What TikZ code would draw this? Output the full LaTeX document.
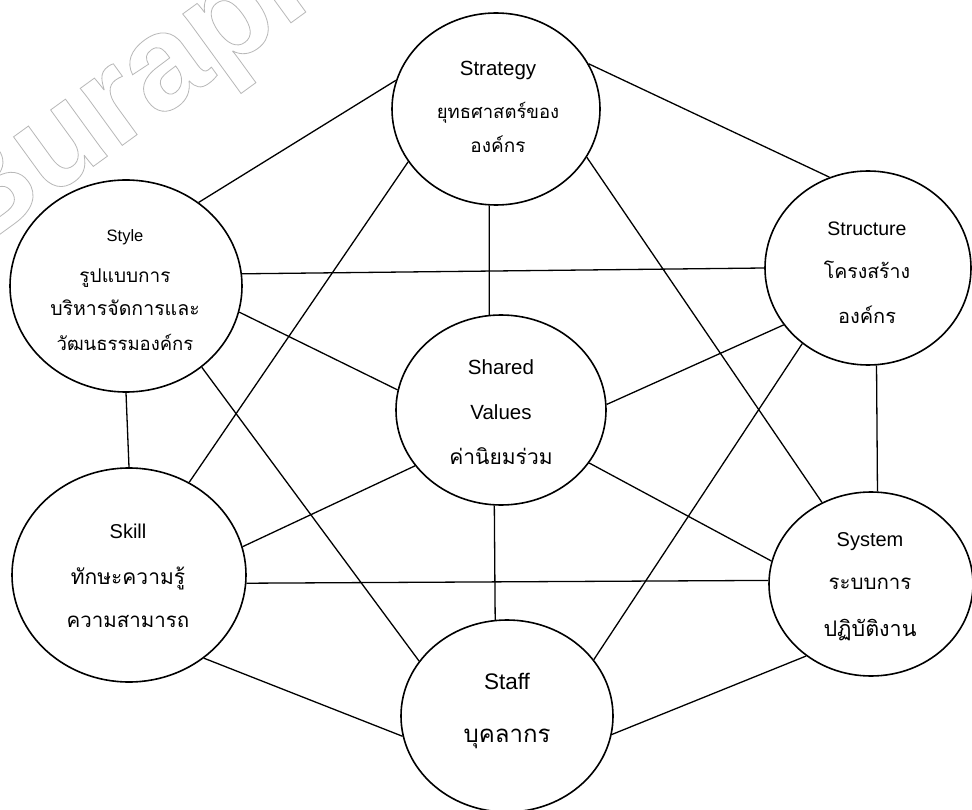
\documentclass[tikz,border=0pt]{standalone}
\usepackage{fontspec}
\setmainfont{Liberation Sans}
\newfontfamily\thaifont[Script=Thai]{Loma}
\newfontfamily\wmfont[FakeBold=0.6]{Liberation Sans Bold}
\usetikzlibrary{shapes.geometric}
\tikzset{
  circ/.style={draw, ellipse, line width=1.6pt, inner sep=0pt},
  link/.style={line width=1.3pt},
  lat/.style={anchor=base, inner sep=0pt, font=\fontsize{#1}{#1}\selectfont},
  th/.style={anchor=base, inner sep=0pt, font=\thaifont\fontsize{#1}{#1}\selectfont},
  wmark/.style={rotate=36, anchor=base west, inner sep=0pt, text=white,
    font=\wmfont\fontsize{134}{134}\selectfont}
}
\begin{document}
\begin{tikzpicture}[x=1pt,y=-1pt]
\useasboundingbox (0,0) rectangle (972,810);
% watermark (outlined text: white fill, grey stroke)
\node[wmark] (wm) at (-30,256) {\special{pdf:literal direct 0.72 G}Burapha};

% circles
\node[circ, minimum width=208pt, minimum height=192pt] (strategy)  at (496,109) {};
\node[circ, minimum width=232pt, minimum height=212pt] (style)     at (126,286) {};
\node[circ, minimum width=206pt, minimum height=194pt] (structure) at (868,268) {};
\node[circ, minimum width=210pt, minimum height=190pt] (shared)    at (501,410) {};
\node[circ, minimum width=234pt, minimum height=214pt] (skill)     at (129,575) {};
\node[circ, minimum width=204pt, minimum height=184pt] (system)    at (871,584) {};
\node[circ, minimum width=212pt, minimum height=192pt] (staff)     at (507,716) {};

% texts
\node[lat=20.5] (strategy-en) at (498,76) {Strategy};
\node[th=18.5] (strategy-th1) at (498,119) {ยุทธศาสตร์ของ};
\node[th=19] (strategy-th2) at (498,153) {องค์กร};

\node[lat=16.5] (style-en) at (125,242) {Style};
\node[th=19] (style-th1) at (125,283) {รูปแบบการ};
\node[th=19.5] (style-th2) at (125,316) {บริหารจัดการและ};
\node[th=18.5] (style-th3) at (125,351) {วัฒนธรรมองค์กร};

\node[lat=19.5] (structure-en) at (867,236) {Structure};
\node[th=19.5] (structure-th1) at (867,279) {โครงสร้าง};
\node[th=20] (structure-th2) at (867,324) {องค์กร};

\node[lat=20.5] (shared-en1) at (501,374) {Shared};
\node[lat=20.5] (shared-en2) at (501,419) {Values};
\node[th=21] (shared-th) at (501,464) {ค่านิยมร่วม};

\node[lat=20] (skill-en) at (128,538) {Skill};
\node[th=21] (skill-th1) at (128,584) {ทักษะความรู้};
\node[th=20.5] (skill-th2) at (128,627) {ความสามารถ};

\node[lat=20] (system-en) at (870,546) {System};
\node[th=20.5] (system-th1) at (870,589) {ระบบการ};
\node[th=21.5] (system-th2) at (870,636) {ปฏิบัติงาน};

\node[lat=22.5] (staff-en) at (507,689) {Staff};
\node[th=24] (staff-th) at (507,742) {บุคลากร};

% connectors
\draw[link] (style.49) -- (strategy.164);
\draw[link] (strategy.26) -- (structure.113);
\draw[link] (style.6) -- (structure.180);
\draw[link] (style.-13) -- (shared.169);
\draw[link] (style.-90) -- (skill.90);
\draw[link] (style.-47) -- (staff.148);
\draw[link] (strategy.266) -- (shared.97);
\draw[link] (strategy.211) -- (skill.57);
\draw[link] (strategy.-28) -- (system.121);
\draw[link] (structure.214) -- (shared.3);
\draw[link] (structure.275) -- (system.86);
\draw[link] (structure.229) -- (staff.33);
\draw[link] (shared.213) -- (skill.14);
\draw[link] (shared.-31) -- (system.167);
\draw[link] (shared.266) -- (staff.97);
\draw[link] (skill.-4) -- (system.178);
\draw[link] (skill.-48) -- (staff.191);
\draw[link] (staff.-10) -- (system.228);
\end{tikzpicture}
\end{document}
